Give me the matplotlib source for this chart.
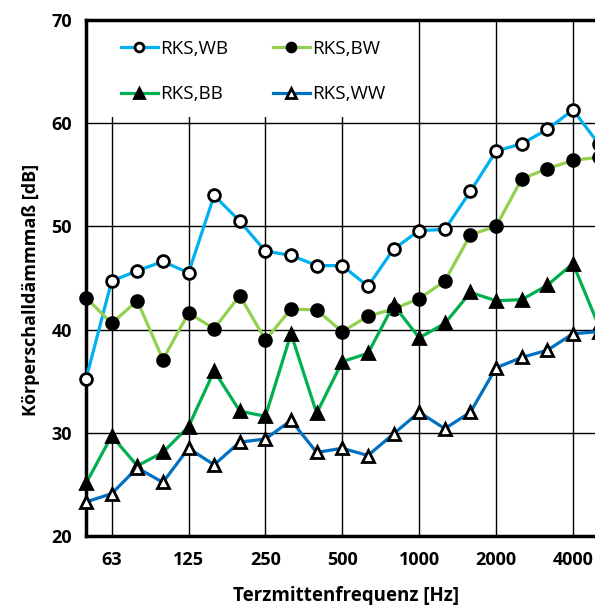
import matplotlib
matplotlib.use("Agg")
import matplotlib.pyplot as plt
from matplotlib.patches import Rectangle

freqs = ["50", "63", "80", "100", "125", "160", "200", "250", "315", "400", "500",
         "630", "800", "1000", "1250", "1600", "2000", "2500", "3150", "4000", "5000"]
rks_wb = [35.2, 44.7, 45.7, 46.6, 45.5, 53.0, 50.5, 47.6, 47.2, 46.2, 46.2,
          44.2, 47.8, 49.6, 49.7, 53.4, 57.3, 58.0, 59.4, 61.3, 58.0]
rks_bw = [43.1, 40.6, 42.8, 37.1, 41.6, 40.1, 43.3, 39.0, 42.0, 41.9, 39.8,
          41.3, 42.0, 43.0, 44.7, 49.2, 50.0, 54.6, 55.6, 56.4, 56.7]
rks_bb = [25.1, 29.7, 26.8, 28.1, 30.6, 36.0, 32.1, 31.6, 39.6, 31.9, 36.9,
          37.7, 42.4, 39.2, 40.6, 43.6, 42.8, 42.9, 44.3, 46.4, 40.4]
rks_ww = [23.3, 24.1, 26.6, 25.2, 28.5, 26.9, 29.1, 29.4, 31.2, 28.1, 28.5,
          27.8, 29.9, 32.0, 30.4, 32.0, 36.3, 37.3, 38.0, 39.6, 39.8]
tick_labels = ["63", "125", "250", "500", "1000", "2000", "4000"]
y_ticks = [20, 30, 40, 50, 60, 70]

plt.rcParams['font.family'] = ['Open Sans', 'DejaVu Sans']

W, H = 595, 605
fig = plt.figure(figsize=(W / 100, H / 100), dpi=100)
x0, x1, y0, y1 = 86, 598.6, 536, 20
ax = fig.add_axes([x0 / W, (H - y0) / H, (x1 - x0) / W, (y0 - y1) / H])

x = list(range(len(freqs)))
series = [
    (rks_wb, "RKS,WB", "#00B0F0", "o", "white"),
    (rks_bw, "RKS,BW", "#92D050", "o", "black"),
    (rks_bb, "RKS,BB", "#00B050", "^", "black"),
    (rks_ww, "RKS,WW", "#0070C0", "^", "white"),
]
handles = {}
for vals, lab, col, mk, fc in series:
    h, = ax.plot(x, vals, color=col, lw=2.3, marker=mk, markersize=8.5 if mk == "o" else 9,
                 markerfacecolor=fc, markeredgecolor="black", markeredgewidth=2.0,
                 label=lab, clip_on=False, zorder=3)
    handles[lab] = h

ax.set_xlim(0, 20)
ax.set_ylim(20, 70)
tick_pos = [freqs.index(t) for t in tick_labels]
ax.set_xticks(tick_pos)
ax.set_xticklabels(tick_labels, fontsize=13, fontweight="bold")
ax.set_yticks(y_ticks)
ax.set_yticklabels([str(v) for v in y_ticks], fontsize=13, fontweight="bold")
ax.tick_params(length=0, axis="x", pad=11)
ax.tick_params(length=0, axis="y", pad=10)
ax.grid(True, color="black", lw=1.0)
ax.set_axisbelow(True)
for s in ["left", "bottom", "top"]:
    ax.spines[s].set_linewidth(2.5)
ax.spines["right"].set_visible(False)

# white legend area hiding the grid
ax.add_patch(Rectangle((0, (536 - 117) / 516), (400 - 86) / 512.6, 1 - (536 - 117) / 516,
                       transform=ax.transAxes, facecolor="white", edgecolor="none",
                       zorder=1, clip_on=False))

ax.set_xlabel("Terzmittenfrequenz [Hz]", fontsize=13.5, fontweight="bold")
ax.set_ylabel("Körperschalldämmmaß [dB]", fontsize=13, fontweight="bold")
ax.xaxis.set_label_coords((346 - 86) / 512.6, (536 - 586) / 516)
ax.yaxis.set_label_coords((40 - 86) / 512.6, (536 - 290) / 516)

order = ["RKS,WB", "RKS,BB", "RKS,BW", "RKS,WW"]
leg = ax.legend(handles=[handles[k] for k in order], labels=order, ncol=2,
                loc="upper left", bbox_to_anchor=((121 - 86) / 512.6, (536 - 40) / 516),
                frameon=False, fontsize=13.6, handlelength=1.95, handletextpad=0.1,
                columnspacing=2.4, labelspacing=1.45, borderpad=0.0, borderaxespad=0.0,
                markerscale=0.75)
leg.set_zorder(4)

fig.savefig("out.png", dpi=100)
